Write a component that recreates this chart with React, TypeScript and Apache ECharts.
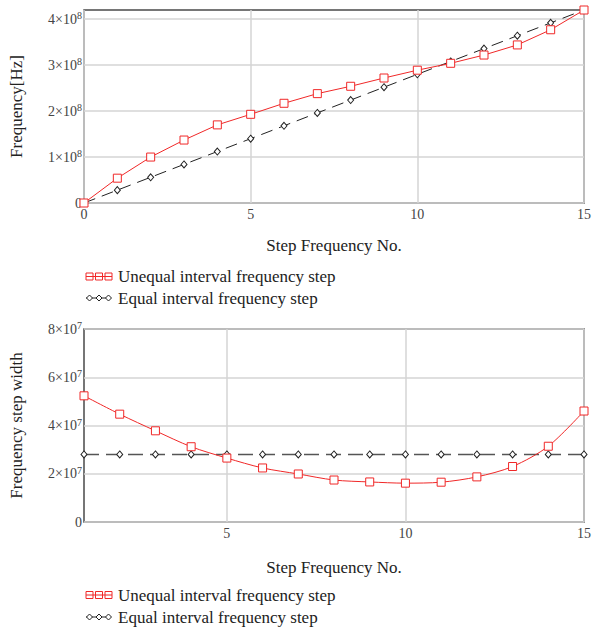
import React, { useEffect, useRef } from "react";
import * as echarts from "echarts";

const stepsTop = [0, 1, 2, 3, 4, 5, 6, 7, 8, 9, 10, 11, 12, 13, 14, 15];
const unequalFreq = [0, 0.54e8, 1.0e8, 1.37e8, 1.7e8, 1.93e8, 2.17e8, 2.38e8, 2.54e8, 2.72e8, 2.89e8, 3.04e8, 3.22e8, 3.44e8, 3.77e8, 4.2e8];
const equalFreq = [0, 2.8e7, 5.6e7, 8.4e7, 1.12e8, 1.4e8, 1.68e8, 1.96e8, 2.24e8, 2.52e8, 2.8e8, 3.08e8, 3.36e8, 3.64e8, 3.92e8, 4.2e8];

const stepsBottom = [1, 2, 3, 4, 5, 6, 7, 8, 9, 10, 11, 12, 13, 14, 15];
const unequalWidth = [5.23e7, 4.47e7, 3.78e7, 3.12e7, 2.65e7, 2.24e7, 1.99e7, 1.74e7, 1.66e7, 1.61e7, 1.65e7, 1.87e7, 2.3e7, 3.14e7, 4.6e7];
const equalWidth = [2.8e7, 2.8e7, 2.8e7, 2.8e7, 2.8e7, 2.8e7, 2.8e7, 2.8e7, 2.8e7, 2.8e7, 2.8e7, 2.8e7, 2.8e7, 2.8e7, 2.8e7];

const xTicksTop = [0, 5, 10, 15];
const xTicksBottom = [5, 10, 15];
const yTicksTop = [0, 1e8, 2e8, 3e8, 4e8];
const yTicksBottom = [0, 2e7, 4e7, 6e7, 8e7];

const legendNames = ["Unequal interval frequency step", "Equal interval frequency step"];
const xName = "Step Frequency No.";
const yNameTop = "Frequency[Hz]";
const yNameBottom = "Frequency step width";

const FONT = "Liberation Serif";
const RED = "#f02828";
const BLACK = "#222";
const LABEL = "#444";

function sciLabel(exp: number) {
  return (v: number) => {
    if (v === 0) return "{b|0}";
    const m = Math.round(v / Math.pow(10, exp));
    return `{b|${m}×10}{s|${exp}}`;
  };
}

const richLabel = {
  b: { fontFamily: FONT, fontSize: 14, color: LABEL, lineHeight: 17 },
  s: { fontFamily: FONT, fontSize: 10, color: LABEL, lineHeight: 10, verticalAlign: "top" },
};

function legendGroup(y1: number, y2: number) {
  const cx = [89.5, 99, 108.5];
  const children: any[] = [];
  children.push({ type: "line", shape: { x1: 86, y1, x2: 112, y2: y1 }, style: { stroke: RED, lineWidth: 1 } });
  cx.forEach((x) =>
    children.push({ type: "rect", shape: { x: x - 3.5, y: y1 - 3.5, width: 7, height: 7 }, style: { fill: "none", stroke: RED, lineWidth: 1 } })
  );
  children.push({ type: "line", shape: { x1: 86, y1: y2, x2: 111, y2 }, style: { stroke: BLACK, lineWidth: 1 } });
  cx.forEach((x) =>
    children.push({
      type: "polygon",
      shape: { points: [[x - 3, y2], [x, y2 - 3], [x + 3, y2], [x, y2 + 3]] },
      style: { fill: "#fff", stroke: BLACK, lineWidth: 1 },
    })
  );
  children.push({ type: "text", x: 118, y: y1, style: { text: legendNames[0], font: `17px "${FONT}"`, fill: "#222", verticalAlign: "middle" } });
  children.push({ type: "text", x: 118, y: y2, style: { text: legendNames[1], font: `17px "${FONT}"`, fill: "#222", verticalAlign: "middle" } });
  return children;
}

export default function App() {
  const ref = useRef<HTMLDivElement>(null);
  useEffect(() => {
    if (!ref.current) return;
    const chart = echarts.init(ref.current, null, { renderer: "svg" });
    const gridStyle = { show: true, borderColor: "#4a4a4a", borderWidth: 1.5, backgroundColor: "#fff" };
    const split = { show: true, lineStyle: { color: "#d4d4d4", width: 1.5 } };
    const nameStyle = { fontFamily: FONT, fontSize: 17, color: "#222" };
    const xAxisCommon = {
      type: "value",
      axisLine: { show: false },
      splitLine: split,
      nameLocation: "middle",
      nameTextStyle: nameStyle,
    };
    const yAxisCommon = {
      type: "value",
      axisLine: { show: false },
      splitLine: split,
      nameLocation: "middle",
      nameGap: 59,
      nameTextStyle: nameStyle,
    };
    const xLabel = { fontFamily: FONT, fontSize: 14, color: LABEL, margin: 4 };
    chart.setOption({
      animation: false,
      backgroundColor: "#fff",
      textStyle: { fontFamily: FONT },
      grid: [
        { left: 84, top: 10, width: 500, height: 193, ...gridStyle },
        { left: 84, top: 329, width: 500, height: 193, ...gridStyle },
      ],
      xAxis: [
        {
          ...xAxisCommon,
          gridIndex: 0,
          min: 0,
          max: 15,
          name: xName,
          nameGap: 34,
          axisTick: { show: false, customValues: xTicksTop },
          axisLabel: { ...xLabel, customValues: xTicksTop },
        },
        {
          ...xAxisCommon,
          gridIndex: 1,
          min: 1,
          max: 15,
          name: xName,
          nameGap: 37,
          axisTick: { show: false, customValues: xTicksBottom },
          axisLabel: { ...xLabel, customValues: xTicksBottom },
        },
      ],
      yAxis: [
        {
          ...yAxisCommon,
          gridIndex: 0,
          min: 0,
          max: 4.2e8,
          name: yNameTop,
          axisTick: { show: false, customValues: yTicksTop },
          axisLabel: { customValues: yTicksTop, formatter: sciLabel(8), rich: richLabel, fontFamily: FONT, fontSize: 14, color: LABEL, margin: 2 },
        },
        {
          ...yAxisCommon,
          gridIndex: 1,
          min: 0,
          max: 8e7,
          name: yNameBottom,
          axisTick: { show: false, customValues: yTicksBottom },
          axisLabel: { customValues: yTicksBottom, formatter: sciLabel(7), rich: richLabel, fontFamily: FONT, fontSize: 14, color: LABEL, margin: 2 },
        },
      ],
      series: [
        {
          type: "line",
          xAxisIndex: 0,
          yAxisIndex: 0,
          data: stepsTop.map((s, i) => [s, unequalFreq[i]]),
          symbol: "rect",
          symbolSize: 8,
          showAllSymbol: true,
          lineStyle: { color: RED, width: 1 },
          itemStyle: { color: "#fff", borderColor: RED, borderWidth: 1 },
          z: 3,
        },
        {
          type: "line",
          xAxisIndex: 0,
          yAxisIndex: 0,
          data: stepsTop.map((s, i) => [s, equalFreq[i]]),
          symbol: "diamond",
          symbolSize: [6, 7],
          showAllSymbol: true,
          lineStyle: { color: BLACK, width: 1, type: [12, 7] },
          itemStyle: { color: "#fff", borderColor: BLACK, borderWidth: 1 },
          z: 2,
        },
        {
          type: "line",
          xAxisIndex: 1,
          yAxisIndex: 1,
          data: stepsBottom.map((s, i) => [s, unequalWidth[i]]),
          smooth: 0.3,
          symbol: "rect",
          symbolSize: 8,
          showAllSymbol: true,
          lineStyle: { color: RED, width: 1 },
          itemStyle: { color: "#fff", borderColor: RED, borderWidth: 1 },
          z: 3,
        },
        {
          type: "line",
          xAxisIndex: 1,
          yAxisIndex: 1,
          data: stepsBottom.map((s, i) => [s, equalWidth[i]]),
          symbol: "diamond",
          symbolSize: [6, 7],
          showAllSymbol: true,
          lineStyle: { color: "#555", width: 1.5, type: [15, 7] },
          itemStyle: { color: "#fff", borderColor: BLACK, borderWidth: 1 },
          z: 2,
        },
      ],
      graphic: [...legendGroup(276.5, 298), ...legendGroup(595, 617)],
    });
    return () => chart.dispose();
  }, []);
  return <div ref={ref} style={{ position: "fixed", left: 0, top: 0, width: 594, height: 628 }} />;
}
